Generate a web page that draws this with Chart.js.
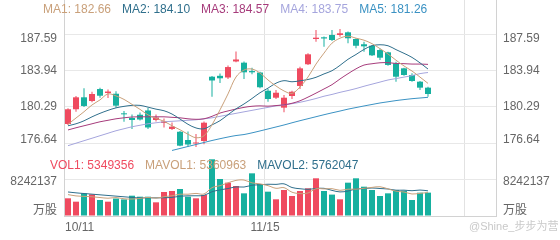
<!DOCTYPE html>
<html>
<head>
<meta charset="utf-8">
<script src="https://cdn.jsdelivr.net/npm/chart.js@4.4.1/dist/chart.umd.min.js"></script>
<style>
  html, body { margin: 0; padding: 0; background: #fff; }
  #wrap { width: 560px; height: 240px; position: relative; }
</style>
</head>
<body>
<div id="wrap"><canvas id="kline"></canvas></div>
<script>
// trading days shown on the axis, plus a few empty slots at the right
const dates = ['10/11','10/12','10/15','10/16','10/17','10/18','10/19','10/22','10/23','10/24','10/25','10/26','10/29','10/30','10/31',
  '11/01','11/02','11/05','11/06','11/07','11/08','11/09','11/12','11/13','11/14','11/15','11/16','11/19','11/20','11/21','11/22','11/23','11/26','11/27','11/28','11/29','11/30',
  '12/03','12/04','12/05','12/06','12/07','12/10','12/11','12/12','12/13'];
const spareSlots = 8;

const open = [178.58, 180.06, 181.26, 180.89, 182.09, 181.69, 181.62, 179.65, 179.18, 179.51,
  179.94, 178.98, 178.68, 178.08, 177.80, 176.97, 176.62, 176.87, 183.33, 183.42,
  183.25, 184.86, 184.74, 183.90, 183.75, 181.92, 181.22, 180.22, 181.39, 182.40,
  184.58, 187.12, 187.29, 187.52, 187.52, 187.79, 187.12, 186.59, 186.44, 186.01,
  185.78, 184.68, 184.17, 183.50, 182.83, 182.23];
const close = [180.06, 181.26, 180.39, 181.59, 181.42, 181.84, 180.42, 179.55, 178.98, 179.03,
  178.23, 179.23, 178.83, 178.31, 176.40, 176.52, 176.72, 178.71, 182.95, 183.17,
  184.30, 185.06, 183.77, 183.77, 182.27, 181.09, 181.72, 181.22, 181.82, 184.17,
  185.58, 187.25, 187.17, 187.02, 187.69, 187.19, 186.44, 186.38, 185.48, 185.24,
  184.51, 183.33, 183.50, 182.90, 182.23, 181.59];
const low = [178.48, 179.82, 180.29, 180.76, 181.22, 181.19, 180.22, 178.81, 178.08, 178.93,
  178.08, 178.83, 178.23, 177.98, 176.34, 176.32, 176.27, 176.54, 181.32, 182.70,
  183.10, 184.78, 183.10, 183.57, 182.17, 180.82, 181.09, 179.75, 181.09, 182.09,
  184.51, 186.85, 186.34, 186.92, 187.35, 186.69, 186.18, 185.84, 185.41, 185.01,
  184.44, 182.83, 183.43, 182.83, 181.99, 181.32];
const high = [180.16, 181.39, 182.17, 181.82, 182.23, 182.04, 181.86, 179.88, 179.53, 179.73,
  180.19, 179.53, 179.13, 178.73, 177.87, 177.83, 177.57, 178.83, 183.40, 183.65,
  184.46, 185.86, 184.86, 184.23, 183.83, 182.09, 181.99, 181.49, 181.92, 184.33,
  185.68, 188.02, 187.37, 188.02, 188.12, 187.86, 187.19, 186.85, 186.51, 186.16,
  185.84, 184.84, 184.23, 183.67, 182.90, 182.33];

const ma1 = [178.55, 179.18, 179.81, 180.49, 181.0, 181.6, 181.4, 181.05, 180.55, 180.05,
  179.5, 179.15, 178.85, 178.4, 178.0, 177.55, 177.2, 177.4, 178.5, 180.0,
  181.6, 183.3, 184.0, 184.1, 183.7, 183.0, 182.4, 181.9, 181.65, 182.3,
  183.3, 184.6, 185.7, 186.7, 187.2, 187.4, 187.2, 187.0, 186.65, 186.15,
  185.61, 184.99, 184.41, 183.90, 183.29, 182.66];
const ma2 = [178.4, 178.6, 178.9, 179.3, 179.65, 179.95, 180.2, 180.35, 180.45, 180.45,
  180.27, 180.07, 179.91, 179.58, 179.08, 178.55, 178.18, 178.10, 178.49, 178.91,
  179.51, 180.10, 180.59, 181.14, 181.72, 182.18, 182.68, 182.93, 182.82, 182.92,
  183.05, 183.27, 183.61, 183.93, 184.47, 185.08, 185.56, 186.07, 186.44, 186.54,
  186.44, 186.05, 185.68, 185.27, 184.72, 184.10];
const ma3 = [177.98, 178.2, 178.4, 178.6, 178.8, 178.95, 179.1, 179.2, 179.28, 179.3,
  179.3, 179.3, 179.3, 179.25, 179.2, 179.1, 179.05, 179.1, 179.35, 179.68,
  179.89, 180.08, 180.25, 180.36, 180.40, 180.37, 180.43, 180.51, 180.66, 180.91,
  181.28, 181.68, 182.10, 182.53, 183.10, 183.63, 184.12, 184.50, 184.63, 184.73,
  184.74, 184.66, 184.64, 184.60, 184.60, 184.57];
const ma4 = [176.4, 176.65, 176.9, 177.15, 177.4, 177.65, 177.9, 178.1, 178.3, 178.45,
  178.6, 178.7, 178.8, 178.85, 178.9, 178.95, 179.0, 179.1, 179.2, 179.35,
  179.5, 179.65, 179.8, 179.95, 180.1, 180.25, 180.4, 180.5, 180.62, 180.76,
  180.94, 181.14, 181.37, 181.55, 181.76, 181.94, 182.14, 182.37, 182.58, 182.79,
  183.00, 183.14, 183.29, 183.44, 183.64, 183.75];
// MA5 runs below the visible price range at the start
const ma5 = [null, null, null, null, null, null, null, null, null, null,
  null, null, null, 175.92, 176.12, 176.32, 176.52, 176.72, 176.92, 177.10,
  177.27, 177.42, 177.52, 177.69, 177.88, 178.08, 178.28, 178.48, 178.70, 178.91,
  179.11, 179.31, 179.51, 179.70, 179.88, 180.07, 180.23, 180.39, 180.54, 180.69,
  180.81, 180.93, 181.03, 181.12, 181.19, 181.26];

const volume = [4050000, 3280000, 5190000, 4960000, 3660000, 3280000, 4000000, 3800000, 4650000, 4420000,
  4420000, 3130000, 5490000, 5720000, 6180000, 4420000, 4050000, 4810000, 12980000, 8470000,
  7630000, 6870000, 5190000, 9770000, 7330000, 5570000, 3820000, 5950000, 4580000, 5720000,
  6340000, 8630000, 5720000, 4900000, 3820000, 7630000, 8630000, 6710000, 5950000, 4580000,
  5190000, 5950000, 5800000, 3660000, 5340000, 5349356];
const mavol1 = [4900000, 4600000, 4500000, 4400000, 4230000, 4070000, 4220000, 3940000, 3880000, 4030000,
  4260000, 4080000, 4420000, 4640000, 4990000, 4990000, 5170000, 5040000, 6490000, 6950000,
  7590000, 8150000, 8230000, 7590000, 7360000, 6950000, 6340000, 6490000, 5450000, 5130000,
  5280000, 6240000, 6200000, 6260000, 5880000, 6140000, 6140000, 6340000, 6550000, 6700000,
  6210000, 5680000, 5490000, 5040000, 5190000, 5360963];
const mavol2 = [5500000, 5300000, 5150000, 5000000, 4850000, 4700000, 4550000, 4400000, 4250000, 4130000,
  4170000, 4150000, 4180000, 4260000, 4510000, 4620000, 4630000, 4730000, 5560000, 5970000,
  6290000, 6660000, 6630000, 7040000, 7150000, 7270000, 7240000, 7360000, 6520000, 6240000,
  6110000, 6290000, 6340000, 5860000, 5510000, 5710000, 6190000, 6270000, 6410000, 6290000,
  6180000, 5910000, 5920000, 5790000, 5940000, 5762047];

const priceTicks = [176.64, 180.29, 183.94, 187.59];
const volumeTicks = [0, 8242137];
const volumeTickLabels = ['万股', '8242137'];

const FONT = '"Liberation Sans", "Noto Sans CJK SC", sans-serif';
const UP = '#ef4a5f';
const DOWN = '#16b09f';
const GRID = '#e8e8e8';
const AXIS = '#d2d2d2';
const maSeries = [
  { name: 'MA1', data: ma1, color: '#c9a07a' },
  { name: 'MA2', data: ma2, color: '#2f6f8c' },
  { name: 'MA3', data: ma3, color: '#a63b7b' },
  { name: 'MA4', data: ma4, color: '#a5a5dd' },
  { name: 'MA5', data: ma5, color: '#3b92c3' }
];

Chart.defaults.font.family = FONT;
Chart.defaults.font.size = 12;
Chart.defaults.color = '#666';

const last = arr => arr[arr.length - 1];
const candleColor = c => close[c.dataIndex] >= open[c.dataIndex] ? UP : DOWN;

// labels sit a little off their grid line near the ends of each axis
function nudge(text, dy) {
  if (!dy) return text;
  return dy > 0 ? ['', text] : [text, ''];
}
function tickFont(dy) {
  return { family: FONT, size: 12, lineHeight: dy ? Math.abs(dy) * 2 / 12 : 1.2 };
}
const priceShift = i => i === priceTicks.length - 1 ? 4.5 : (i === 0 ? -3.5 : 0);
const volumeShift = i => i === 0 ? -5.5 : 2;

function fixY(s) {
  s.width = 64;
  s.paddingTop = 0;
  s.paddingBottom = 0;
}

function priceAxis(position) {
  return {
    type: 'linear', position: position, stack: position, stackWeight: 151,
    min: 175.866, max: 191.036,
    afterBuildTicks: s => { s.ticks = priceTicks.map(value => ({ value })); },
    afterFit: fixY,
    grid: { display: position === 'left', color: GRID, drawTicks: false },
    border: { color: AXIS },
    ticks: {
      padding: 7, autoSkip: false,
      font: c => tickFont(priceShift(c.index)),
      callback: (v, i) => nudge(v.toFixed(2), priceShift(i))
    }
  };
}
function volumeAxis(position) {
  return {
    type: 'linear', position: position, stack: position, stackWeight: 65,
    min: 0, max: 14881636,
    afterBuildTicks: s => { s.ticks = volumeTicks.map(value => ({ value })); },
    afterFit: fixY,
    grid: { display: position === 'left', color: GRID, drawTicks: false },
    border: { color: AXIS },
    ticks: {
      padding: 7, autoSkip: false,
      font: c => tickFont(volumeShift(c.index)),
      callback: (v, i) => nudge(volumeTickLabels[i], volumeShift(i))
    }
  };
}

const overlayText = {
  id: 'overlayText',
  afterDraw(chart) {
    const ctx = chart.ctx;
    ctx.save();
    ctx.font = '12px ' + FONT;
    ctx.textBaseline = 'middle';
    const row = (items, x, y) => {
      items.forEach(([text, color]) => {
        ctx.fillStyle = color;
        ctx.fillText(text, x, y);
        x += ctx.measureText(text).width + 11;
      });
    };
    row(maSeries.map(s => [s.name + ': ' + last(s.data).toFixed(2), s.color]), 43, 9.5);
    row([
      ['VOL1: ' + last(volume), UP],
      ['MAVOL1: ' + last(mavol1), maSeries[0].color],
      ['MAVOL2: ' + last(mavol2), maSeries[1].color]
    ], 50, 166);
    ctx.font = '11px ' + FONT;
    ctx.fillStyle = '#c9c9c9';
    ctx.fillText('@Shine_步步为营', 469, 227);
    ctx.restore();
  }
};

const lineSet = (data, color, axis) => ({
  type: 'line', data: data, borderColor: color, borderWidth: 1,
  pointRadius: 0, tension: 0.35, fill: false, yAxisID: axis, order: 0
});

new Chart(document.getElementById('kline'), {
  type: 'bar',
  data: {
    labels: dates.concat(new Array(spareSlots).fill('')),
    datasets: [
      ...maSeries.map(s => lineSet(s.data, s.color, 'y')),
      {
        label: 'K', data: open.map((o, i) => [o, close[i]]),
        backgroundColor: candleColor, barThickness: 6, minBarLength: 1,
        inflateAmount: 0, grouped: false, yAxisID: 'y', order: 1
      },
      {
        label: 'wick', data: low.map((l, i) => [l, high[i]]),
        backgroundColor: candleColor, barThickness: 1,
        inflateAmount: 0, grouped: false, yAxisID: 'y', order: 2
      },
      {
        label: 'VOL', data: volume, backgroundColor: candleColor,
        barThickness: 6, inflateAmount: 0, grouped: false, yAxisID: 'v', order: 3
      },
      lineSet(mavol1, maSeries[0].color, 'v'),
      lineSet(mavol2, maSeries[1].color, 'v')
    ]
  },
  options: {
    responsive: true,
    maintainAspectRatio: false,
    animation: false,
    events: [],
    layout: { padding: 0 },
    plugins: { legend: { display: false }, tooltip: { enabled: false } },
    scales: {
      x: {
        type: 'category', offset: true,
        grid: {
          offset: true, drawTicks: false,
          color: c => (c.index === 25 || c.index === 50) ? '#e2e2e2' : 'rgba(0,0,0,0)'
        },
        border: { color: AXIS },
        ticks: {
          autoSkip: false, maxRotation: 0, minRotation: 0,
          align: 'inner', labelOffset: -3, padding: 4,
          callback: function (v, i) { return i % 25 === 0 ? this.getLabelForValue(v) : ''; }
        },
        afterFit: s => { s.height = 24; s.paddingLeft = 0; s.paddingRight = 0; }
      },
      v: volumeAxis('left'),
      y: priceAxis('left'),
      yr: priceAxis('right'),
      vr: volumeAxis('right')
    }
  },
  plugins: [overlayText]
});
</script>
</body>
</html>
